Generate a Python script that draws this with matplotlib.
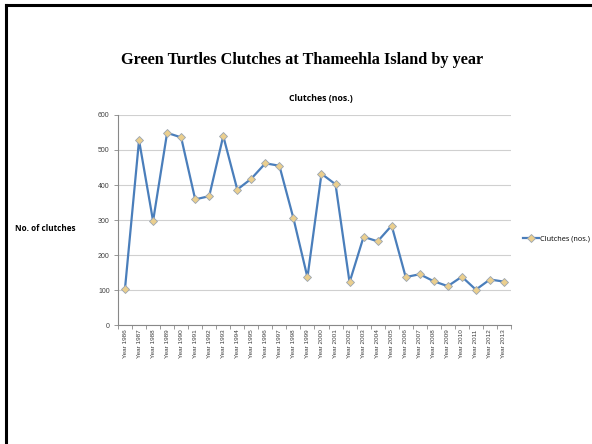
import matplotlib.pyplot as plt
import numpy as np
from matplotlib.lines import Line2D

years = list(range(1986, 2014))
labels = ["Year " + str(y) for y in years]
clutches = [104, 528, 297, 549, 536, 359, 368, 540, 387, 418, 462, 455, 305,
            136, 432, 402, 122, 252, 239, 284, 137, 145, 125, 111, 138, 101, 130, 124]

fig = plt.figure(figsize=(5.92, 4.44), dpi=100)
ax = fig.add_axes([0.1993, 0.268, 0.6638, 0.473])

x = np.arange(len(years))
ax.plot(x, clutches, color='#4A7EBB', linewidth=1.6, marker='D', markersize=4.5,
        markerfacecolor='#EBCF8E', markeredgecolor='#9AA4B0', markeredgewidth=0.6,
        label='Clutches (nos.)', zorder=3)

ax.set_xlim(-0.5, len(years) - 0.5)
ax.set_ylim(0, 600)
ax.set_yticks(range(0, 601, 100))
ax.set_xticks(x)
ax.set_xticklabels(labels, rotation=90, fontsize=4.6, color='#404040', family='Liberation Sans')
ax.set_xticks(np.arange(-0.5, len(years), 1.0), minor=True)
ax.tick_params(axis='x', which='major', length=0, pad=3)
ax.tick_params(axis='x', which='minor', length=3, color='#888888', width=0.6, direction='out')
ax.tick_params(axis='y', length=3, color='#888888', width=0.6, labelsize=5, labelcolor='#404040', pad=3)
for t in ax.get_yticklabels():
    t.set_family('Liberation Sans')

ax.grid(axis='y', color='#D0D0D0', linewidth=0.8)
ax.set_axisbelow(True)
for s in ['top', 'right']:
    ax.spines[s].set_visible(False)
ax.spines['left'].set_color('#888888')
ax.spines['bottom'].set_color('#888888')
ax.spines['left'].set_linewidth(0.8)
ax.spines['bottom'].set_linewidth(0.8)

fig.text(0.511, 0.865, 'Green Turtles Clutches at Thameehla Island by year',
         ha='center', va='center', fontsize=11.7, fontweight='bold', family='Liberation Serif')
fig.text(0.542, 0.779, 'Clutches (nos.)', ha='center', va='center',
         fontsize=6.3, fontweight='bold', family='Open Sans')
fig.text(0.025, 0.486, 'No. of clutches', ha='left', va='center',
         fontsize=5.9, fontweight='bold', family='Open Sans')

h, l = ax.get_legend_handles_labels()
leg = fig.legend(h, l, loc='center left', bbox_to_anchor=(0.883, 0.462), frameon=False,
                 fontsize=5.3, handlelength=2.2, handletextpad=0.1,
                 borderpad=0, borderaxespad=0)
for t in leg.get_texts():
    t.set_family('Open Sans')

# page frame: top and left edges
fig.add_artist(Line2D([0.0105, 1.0], [0.989, 0.989], transform=fig.transFigure,
                      color='black', linewidth=2.2))
fig.add_artist(Line2D([0.0105, 0.0105], [0.0, 0.989], transform=fig.transFigure,
                      color='black', linewidth=2.2))

fig.savefig('out.png', dpi=100)
